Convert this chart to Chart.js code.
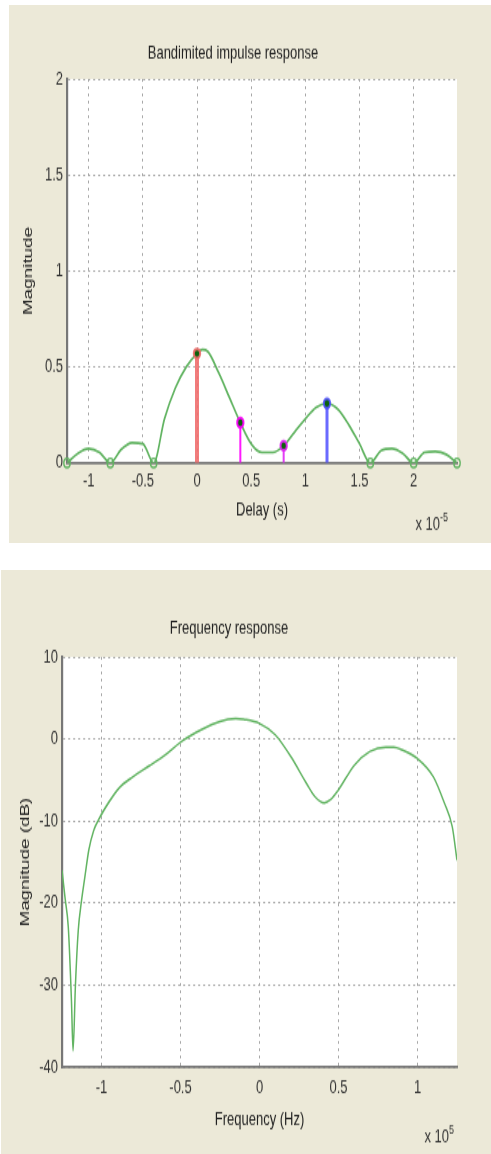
<!DOCTYPE html>
<html>
<head>
<meta charset="utf-8">
<title>Bandlimited impulse response / Frequency response</title>
<script src="https://cdn.jsdelivr.net/npm/chart.js@4.4.1/dist/chart.umd.min.js"></script>
<style>
	body { margin: 0; background: #fff; width: 491px; height: 1154px; overflow: hidden; position: relative; }
	.panel { position: absolute; background: #ece9d8; overflow: hidden; }
	.panel canvas { transform-origin: 0 0; }
	#panel1 { left: 9px; top: 5px; width: 482px; height: 538px; }
	#panel2 { left: 1px; top: 570px; width: 490px; height: 584px; }
	#impulse-chart { transform: scaleY(1.4501); }
	#freq-chart { transform: scaleY(1.4491); }
</style>
</head>
<body>
<div class="panel" id="panel1"><canvas id="impulse-chart" width="482" height="371"></canvas></div>
<div class="panel" id="panel2"><canvas id="freq-chart" width="490" height="403"></canvas></div>
<script>
/* 上段: 帯域制限インパルス応答 (遅延 x 1e-5 s) */
var delayGrid = [-1.2, -1.1, -1.0, -0.9, -0.8, -0.7, -0.6, -0.5, -0.4, -0.3, -0.2, -0.1, 0, 0.05,
	0.1, 0.2, 0.3, 0.4, 0.5, 0.6, 0.7, 0.8, 0.9, 1.0, 1.1, 1.2, 1.3, 1.4, 1.5, 1.6, 1.7, 1.8, 1.9,
	2.0, 2.1, 2.2, 2.3, 2.4];
var impulseMag = [0, 0.05, 0.075, 0.055, 0, 0.07, 0.105, 0.1, 0, 0.23, 0.39, 0.5, 0.57, 0.59,
	0.58, 0.47, 0.34, 0.21, 0.1, 0.055, 0.055, 0.09, 0.16, 0.23, 0.29, 0.31, 0.28, 0.2, 0.1, 0, 0.065, 0.075, 0.05,
	0, 0.055, 0.06, 0.045, 0];
var stemDelays = [0, 0.4, 0.8, 1.2];
var stemGains = [0.57, 0.21, 0.09, 0.31];
var zeroDelays = [-1.2, -0.8, -0.4, 1.6, 2.0, 2.4];
var delayTicks = [-1, -0.5, 0, 0.5, 1, 1.5, 2];
var magTicks = [0, 0.5, 1, 1.5, 2];

/* 下段: 周波数応答 (x 1e5 Hz) */
var freqHz = [-1.25, -1.23, -1.21, -1.19, -1.18, -1.165, -1.147, -1.127, -1.105, -1.08, -1.05, -1.02,
	-0.95, -0.89, -0.8, -0.7, -0.6, -0.5, -0.4, -0.3, -0.2, -0.15, -0.1, 0, 0.1, 0.2, 0.3, 0.35, 0.41,
	0.45, 0.5, 0.6, 0.7, 0.8, 0.85, 0.9, 1.0, 1.1, 1.17, 1.22, 1.25];
var freqMagDb = [-16, -19.5, -23, -32, -38, -30, -23.3, -19.8, -16.8, -13.5, -11.2, -9.9,
	-7.6, -6.0, -4.6, -3.3, -2.0, -0.4, 0.8, 1.8, 2.4, 2.5, 2.4, 1.9, 0.5, -2.2, -5.5, -7.0, -7.8,
	-7.4, -6.2, -3.2, -1.5, -1.0, -1.0, -1.3, -2.4, -4.6, -7.8, -10.7, -14.8];
var freqTicks = [-1, -0.5, 0, 0.5, 1];
var dbTicks = [-40, -30, -20, -10, 0, 10];

/* 見た目 */
var stemColors = ['rgba(240,110,110,0.9)', 'rgba(255,0,255,0.9)', 'rgba(225,40,245,0.9)', 'rgba(80,80,255,0.85)'];
var stemWidths = [4, 2, 2, 3];
var curveGreen = '#62b462';
var FONT = '"Liberation Sans", Arial, sans-serif';

Chart.defaults.font.family = FONT;
Chart.defaults.color = '#333';

/* プロット領域を白で塗る */
var whiteArea = {
	id: 'whiteArea',
	beforeDraw: function(chart) {
		var ctx = chart.ctx;
		var a = chart.chartArea;
		ctx.save();
		ctx.fillStyle = '#ffffff';
		ctx.fillRect(a.left, a.top, a.right - a.left, a.bottom - a.top);
		ctx.restore();
	}
};

/* 軸の右下に "x 10^n" を描く */
var multiplierLabel = {
	id: 'multiplier',
	afterDraw: function(chart, args, opts) {
		var ctx = chart.ctx;
		var area = chart.chartArea;
		var x = area.right + opts.dx;
		var y = area.bottom + opts.dy;
		ctx.save();
		ctx.fillStyle = '#333';
		ctx.textAlign = 'right';
		ctx.textBaseline = 'alphabetic';
		ctx.font = '9px ' + FONT;
		ctx.fillText(opts.exp, x, y - 6);
		var w = ctx.measureText(opts.exp).width;
		ctx.font = '13px ' + FONT;
		ctx.fillText(opts.base, x - w, y);
		ctx.restore();
	}
};

function tickList(values) {
	return function(scale) {
		scale.ticks = values.map(function(v) { return { value: v }; });
	};
}

function axisOptions(min, max, values, fixedSize, isX, tickPad, titleText, titlePad) {
	return {
		type: 'linear',
		min: min,
		max: max,
		afterBuildTicks: tickList(values),
		afterFit: function(scale) {
			if (isX) { scale.height = fixedSize; } else { scale.width = fixedSize; }
		},
		grid: { color: '#a8a8a8', lineWidth: 1, drawTicks: false },
		border: { display: true, color: '#777', width: isX ? 1.8 : 2.2, dash: [2, 3] },
		ticks: {
			padding: tickPad,
			autoSkip: false,
			maxRotation: 0,
			color: '#333',
			font: { size: 13 },
			callback: function(v) { return String(v); }
		},
		title: {
			display: true,
			text: titleText,
			color: '#222',
			font: { size: 13 },
			padding: isX ? { top: 0, bottom: titlePad } : { top: titlePad, bottom: 0 }
		}
	};
}

function initImpulseChart() {
	var datasets = [];
	/* 各パスの先端の点 */
	datasets.push({
		data: stemDelays.map(function(d, i) { return { x: d, y: stemGains[i] }; }),
		pointRadius: 3.2,
		pointBackgroundColor: '#0b620b',
		pointBorderColor: stemColors,
		pointBorderWidth: 2,
		clip: false
	});
	/* ゼロ点の白抜き丸 */
	datasets.push({
		data: zeroDelays.map(function(d) { return { x: d, y: 0 }; }),
		pointRadius: 3.2,
		pointBackgroundColor: 'rgba(255,255,255,0)',
		pointBorderColor: curveGreen,
		pointBorderWidth: 1.4,
		clip: false
	});
	/* ステム */
	for (var i = 0; i < stemDelays.length; i++) {
		datasets.push({
			data: [{ x: stemDelays[i], y: 0 }, { x: stemDelays[i], y: stemGains[i] }],
			showLine: true,
			borderColor: stemColors[i],
			borderWidth: stemWidths[i],
			pointRadius: 0
		});
	}
	/* 応答曲線 */
	datasets.push({
		data: delayGrid.map(function(d, i) { return { x: d, y: impulseMag[i] }; }),
		showLine: true,
		borderColor: curveGreen,
		borderWidth: 1.7,
		pointRadius: 0,
		cubicInterpolationMode: 'monotone'
	});

	new Chart(document.getElementById('impulse-chart'), {
		type: 'scatter',
		data: { datasets: datasets },
		plugins: [whiteArea, multiplierLabel],
		options: {
			responsive: false,
			animation: false,
			events: [],
			layout: { padding: { left: 0, right: 34, top: 0, bottom: 0 } },
			scales: {
				x: axisOptions(-1.2, 2.4, delayTicks, 55.2, true, 5.1, 'Delay (s)', 14.9),
				y: axisOptions(0, 2, magTicks, 58, false, 4, 'Magnitude', 11.2)
			},
			plugins: {
				legend: { display: false },
				tooltip: { enabled: false },
				title: {
					display: true,
					text: 'Bandimited impulse response',
					color: '#222',
					font: { size: 13, weight: 'normal' },
					padding: { top: 25.3, bottom: 10.1 }
				},
				multiplier: { base: 'x 10', exp: '-5', dx: -9, dy: 46 }
			}
		}
	});
}

function initFreqChart() {
	new Chart(document.getElementById('freq-chart'), {
		type: 'scatter',
		data: {
			datasets: [{
				data: freqHz.map(function(f, i) { return { x: f, y: freqMagDb[i] }; }),
				showLine: true,
				borderColor: curveGreen,
				borderWidth: 1.5,
				pointRadius: 0,
				cubicInterpolationMode: 'monotone'
			}]
		},
		plugins: [whiteArea, multiplierLabel],
		options: {
			responsive: false,
			animation: false,
			events: [],
			layout: { padding: { left: 0, right: 34, top: 0, bottom: 0 } },
			scales: {
				x: axisOptions(-1.25, 1.25, freqTicks, 60, true, 6.7, 'Frequency (Hz)', 15.7),
				y: axisOptions(-40, 10, dbTicks, 61, false, 4, 'Magnitude (dB)', 16.2)
			},
			plugins: {
				legend: { display: false },
				tooltip: { enabled: false },
				title: {
					display: true,
					text: 'Frequency response',
					color: '#222',
					font: { size: 13, weight: 'normal' },
					padding: { top: 32.2, bottom: 12.2 }
				},
				multiplier: { base: 'x 10', exp: '5', dx: -3, dy: 51.7 }
			}
		}
	});
}

function start() {
	initImpulseChart();
	initFreqChart();
}

start();
</script>
</body>
</html>
